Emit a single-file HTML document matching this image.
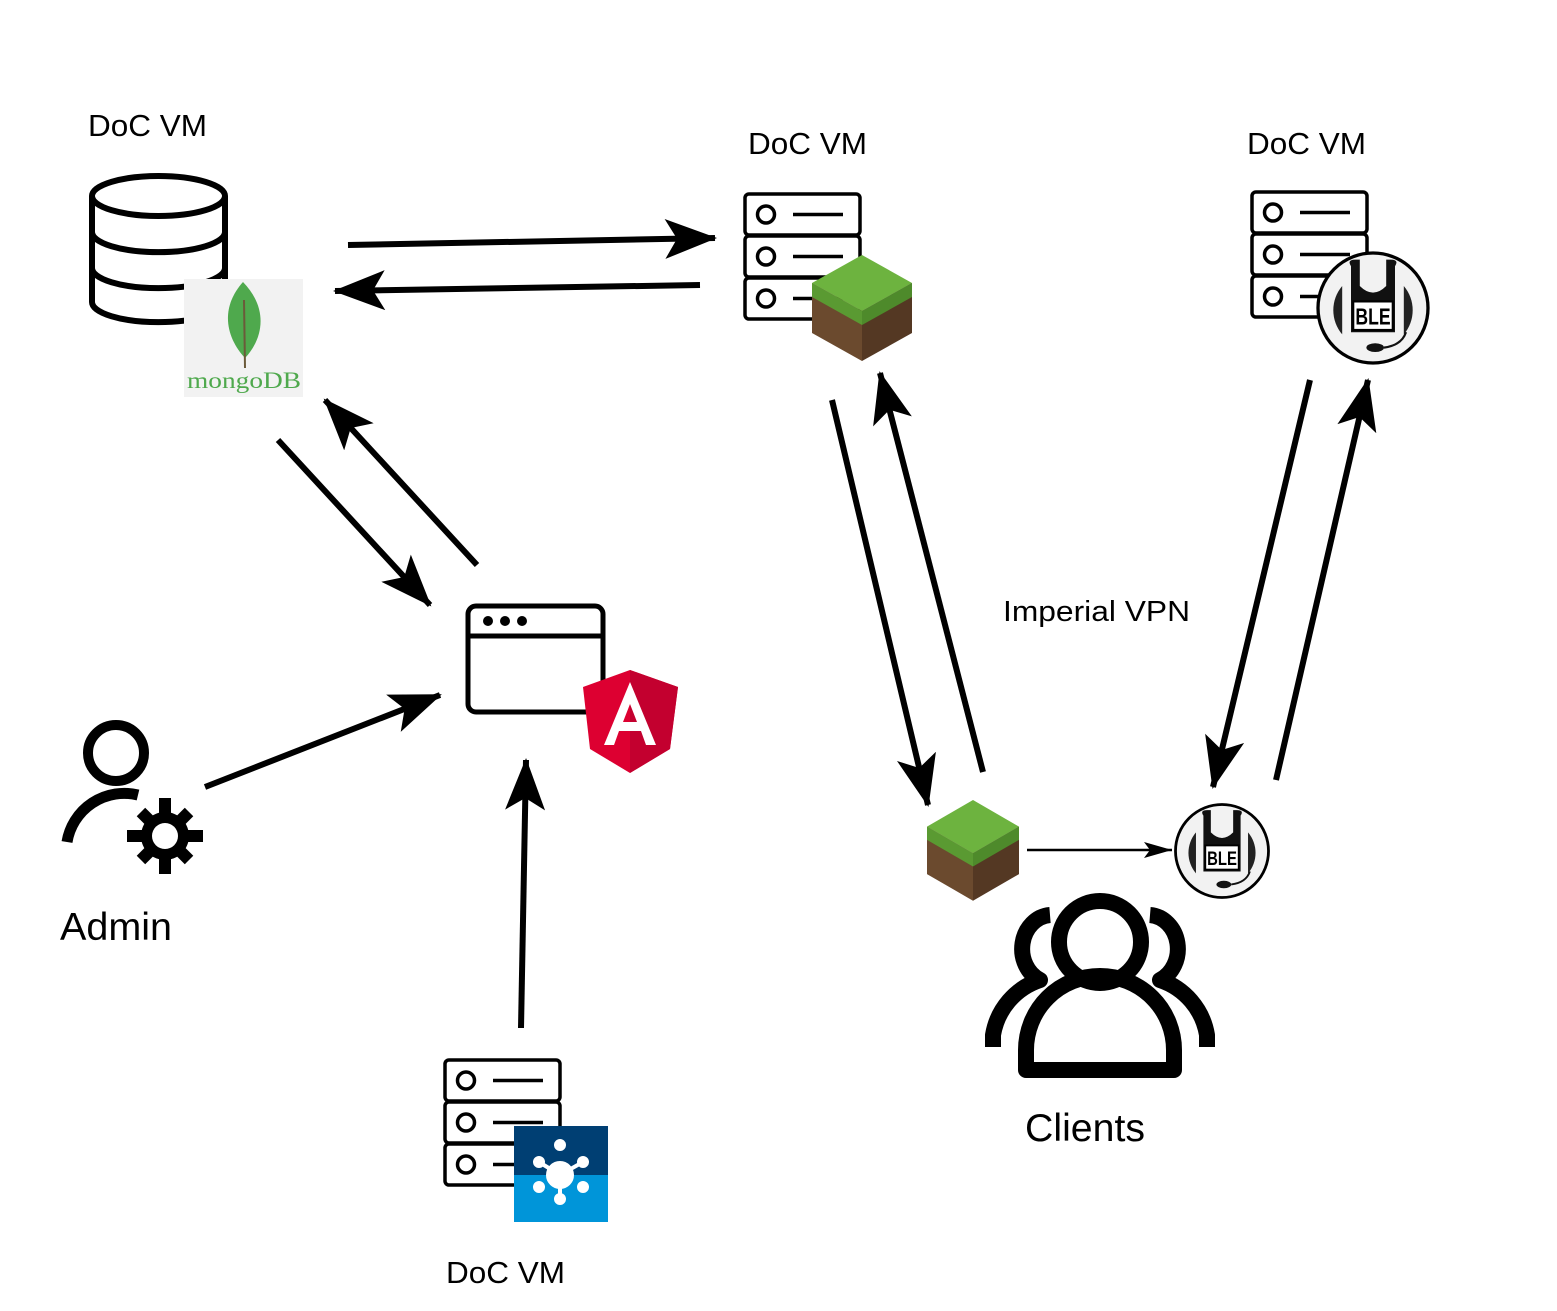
<!DOCTYPE html>
<html><head><meta charset="utf-8"><style>
html,body{margin:0;padding:0;background:#fff;}
svg{display:block;}
text{font-family:"Liberation Sans",Arial,sans-serif;fill:#000;}
</style></head><body>
<svg width="1557" height="1311" viewBox="0 0 1557 1311" xmlns="http://www.w3.org/2000/svg">
<defs>
<g id="srv">
  <rect x="0" y="0" width="115" height="41" rx="4" fill="#fff" stroke="#000" stroke-width="3.5"/>
  <rect x="0" y="42" width="115" height="41" rx="4" fill="#fff" stroke="#000" stroke-width="3.5"/>
  <rect x="0" y="84" width="115" height="41" rx="4" fill="#fff" stroke="#000" stroke-width="3.5"/>
  <circle cx="21" cy="20.5" r="8.5" fill="none" stroke="#000" stroke-width="3.5"/>
  <circle cx="21" cy="62.5" r="8.5" fill="none" stroke="#000" stroke-width="3.5"/>
  <circle cx="21" cy="104.5" r="8.5" fill="none" stroke="#000" stroke-width="3.5"/>
  <line x1="48" y1="20.5" x2="98" y2="20.5" stroke="#000" stroke-width="3.5"/>
  <line x1="48" y1="62.5" x2="98" y2="62.5" stroke="#000" stroke-width="3.5"/>
  <line x1="48" y1="104.5" x2="98" y2="104.5" stroke="#000" stroke-width="3.5"/>
</g>
<g id="cube">
  <polygon points="0,28 50,0 100,28 50,56" fill="#6db33f"/>
  <polygon points="0,28 50,56 50,106 0,78" fill="#6b4a2e"/>
  <polygon points="50,56 100,28 100,78 50,106" fill="#543823"/>
  <polygon points="0,28 50,56 50,70 0,42" fill="#5a9a32"/>
  <polygon points="50,56 100,28 100,42 50,70" fill="#4e8a2b"/>
</g>
<g id="ble">
  <circle r="50" fill="#f2f2f2" stroke="#000" stroke-width="3"/>
  <path d="M-28,-20 A34,34 0 0 0 -28,24 Z" fill="#222"/>
  <path d="M28,-20 A34,34 0 0 1 28,24 Z" fill="#222"/>
  <path d="M-20,-38 Q-24,-44 -16,-44 L-12,-44 L-12,-20 Q0,-8 12,-20 L12,-44 L16,-44 Q24,-44 20,-38 L20,22 L-20,22 Z" fill="#111"/>
  <rect x="-18" y="-6" width="36" height="26" fill="#fff" stroke="#000" stroke-width="2"/>
  <text x="0" y="15" font-size="21" font-weight="bold" text-anchor="middle" textLength="32" lengthAdjust="spacingAndGlyphs">BLE</text>
  <ellipse cx="2" cy="36" rx="8" ry="4" fill="#111"/>
  <path d="M10,36 Q26,34 30,22" fill="none" stroke="#111" stroke-width="2"/>
</g>
<marker id="ah" markerUnits="userSpaceOnUse" markerWidth="54" markerHeight="40" refX="50" refY="20" orient="auto">
  <path d="M0,0 L52,20 L0,40 L12,20 Z" fill="#000"/>
</marker>
<marker id="ahs" markerUnits="userSpaceOnUse" markerWidth="30" markerHeight="20" refX="28" refY="10" orient="auto">
  <path d="M0,2 L28,10 L0,18 L6,10 Z" fill="#000"/>
</marker>
</defs>

<text x="88" y="136" font-size="31" textLength="119" lengthAdjust="spacingAndGlyphs">DoC VM</text>
<text x="748" y="154" font-size="31" textLength="119" lengthAdjust="spacingAndGlyphs">DoC VM</text>
<text x="1247" y="154" font-size="31" textLength="119" lengthAdjust="spacingAndGlyphs">DoC VM</text>
<text x="446" y="1283" font-size="31" textLength="119" lengthAdjust="spacingAndGlyphs">DoC VM</text>
<text x="1003" y="621" font-size="29" textLength="187" lengthAdjust="spacingAndGlyphs">Imperial VPN</text>
<text x="60" y="940" font-size="39" textLength="112" lengthAdjust="spacingAndGlyphs">Admin</text>
<text x="1025" y="1141" font-size="39" textLength="120" lengthAdjust="spacingAndGlyphs">Clients</text>

<g fill="#fff" stroke="#000" stroke-width="6">
  <path d="M92,196 L92,302 A66,20 0 0 0 225,302 L225,196"/>
  <ellipse cx="158.5" cy="196" rx="66.5" ry="20"/>
  <path d="M92,232 A66,20 0 0 0 225,232"/>
  <path d="M92,268 A66,20 0 0 0 225,268"/>
</g>
<rect x="184" y="279" width="119" height="118" fill="#f2f2f2"/>
<path d="M243,282 C270,310 262,340 245,358 C228,340 218,310 243,282 Z" fill="#4fa94d"/>
<line x1="244" y1="300" x2="245" y2="368" stroke="#6b5a3a" stroke-width="2"/>
<text x="187" y="388" font-size="23" textLength="114" lengthAdjust="spacingAndGlyphs" style="font-family:'Liberation Serif',serif;fill:#4fa94d">mongoDB</text>

<use href="#srv" x="745" y="194"/>
<use href="#cube" x="812" y="255"/>
<use href="#srv" x="1252" y="192"/>
<use href="#ble" transform="translate(1373,308) scale(1.1)"/>
<use href="#srv" x="445" y="1060"/>

<rect x="514" y="1126" width="94" height="49" fill="#003f73"/>
<rect x="514" y="1175" width="94" height="47" fill="#0095d9"/>
<g fill="#fff" stroke="#fff" stroke-width="4">
  <line x1="560" y1="1175" x2="560" y2="1199"/>
  <line x1="560" y1="1175" x2="539" y2="1162"/>
  <line x1="560" y1="1175" x2="583" y2="1162"/>
  <circle cx="560" cy="1175" r="12"/>
  <circle cx="560" cy="1145" r="4"/>
  <circle cx="539" cy="1162" r="4"/>
  <circle cx="583" cy="1162" r="4"/>
  <circle cx="539" cy="1187" r="4"/>
  <circle cx="583" cy="1187" r="4"/>
  <circle cx="560" cy="1199" r="4"/>
</g>

<rect x="468" y="606" width="135" height="106" rx="8" fill="#fff" stroke="#000" stroke-width="5"/>
<line x1="468" y1="636" x2="603" y2="636" stroke="#000" stroke-width="5"/>
<circle cx="488" cy="621" r="5"/><circle cx="505" cy="621" r="5"/><circle cx="522" cy="621" r="5"/>
<path d="M630,670 L678,687 L670,749 L630,773 L590,749 L583,687 Z" fill="#dd0031"/>
<path d="M630,670 L678,687 L670,749 L630,773 Z" fill="#c3002f"/>
<path d="M630,682 L604,745 L614,745 L619,731 L641,731 L646,745 L656,745 Z M623,722 L630,704 L637,722 Z" fill="#fff"/>

<circle cx="116" cy="753" r="28" fill="none" stroke="#000" stroke-width="10"/>
<path d="M67,842 A58,58 0 0 1 138,795" fill="none" stroke="#000" stroke-width="11"/>
<g transform="translate(165,836)">
  <g fill="#000">
    <rect x="-6" y="-38" width="12" height="76"/>
    <rect x="-38" y="-6" width="76" height="12"/>
    <rect x="-6" y="-34" width="12" height="68" transform="rotate(45)"/>
    <rect x="-6" y="-34" width="12" height="68" transform="rotate(-45)"/>
  </g>
  <circle r="24" fill="#000"/>
  <circle r="13" fill="#fff"/>
</g>

<g fill="none" stroke="#000" stroke-width="16" stroke-linejoin="round">
  <circle cx="1100" cy="942" r="41"/>
  <path d="M1026,1070 L1026,1050 A74,74 0 0 1 1174,1050 L1174,1070 Z"/>
  <path d="M1050,915 A30,34 0 0 0 1040,980 A70,70 0 0 0 993,1035 L993,1047"/>
  <path d="M1150,915 A30,34 0 0 1 1160,980 A70,70 0 0 1 1207,1035 L1207,1047"/>
</g>

<use href="#cube" transform="translate(927,800) scale(0.92,0.95)"/>
<use href="#ble" transform="translate(1222,851) scale(0.93)"/>

<g stroke="#000" stroke-width="6" fill="none">
  <line x1="348" y1="245" x2="715" y2="238" marker-end="url(#ah)"/>
  <line x1="700" y1="285" x2="335" y2="291" marker-end="url(#ah)"/>
  <line x1="278" y1="440" x2="430" y2="605" marker-end="url(#ah)"/>
  <line x1="477" y1="565" x2="325" y2="400" marker-end="url(#ah)"/>
  <line x1="205" y1="787" x2="440" y2="695" marker-end="url(#ah)"/>
  <line x1="521" y1="1028" x2="526" y2="760" marker-end="url(#ah)"/>
  <line x1="832" y1="400" x2="928" y2="805" marker-end="url(#ah)"/>
  <line x1="983" y1="772" x2="880" y2="373" marker-end="url(#ah)"/>
  <line x1="1310" y1="380" x2="1213" y2="787" marker-end="url(#ah)"/>
  <line x1="1276" y1="780" x2="1368" y2="380" marker-end="url(#ah)"/>
  <line x1="1027" y1="850" x2="1172" y2="850" stroke-width="2.5" marker-end="url(#ahs)"/>
</g>
</svg>
</body></html>
